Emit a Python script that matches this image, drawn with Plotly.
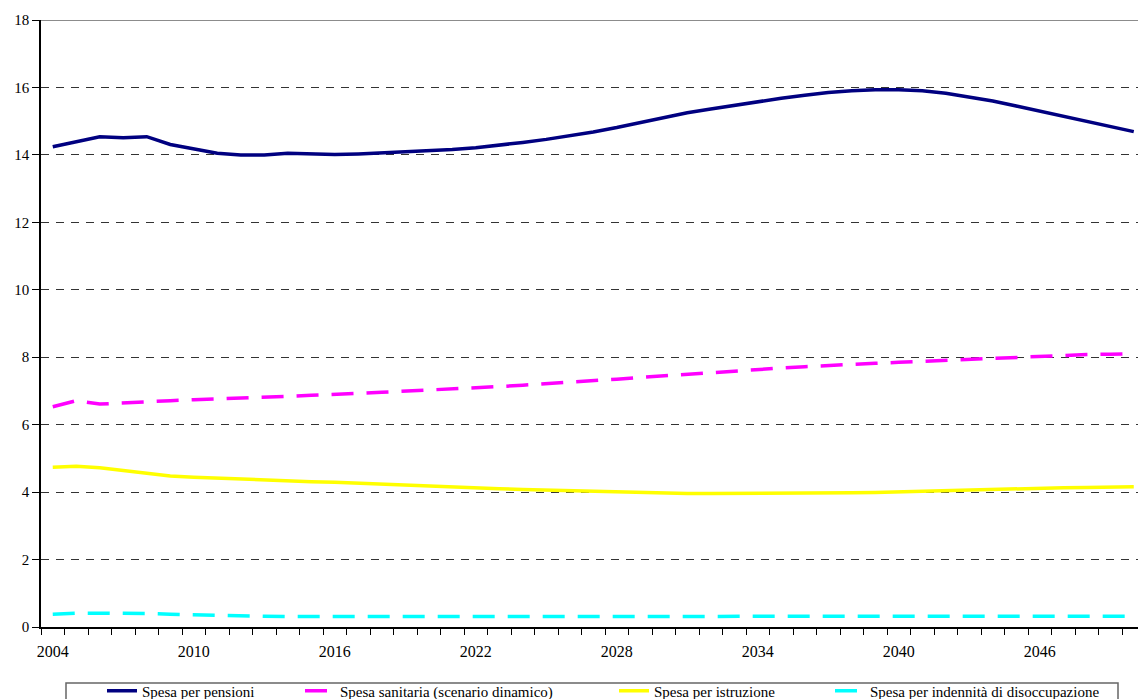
import plotly.graph_objects as go

# Years of the projection
years = list(range(2004, 2051))

# Spending as % of GDP
pensioni = [14.24, 14.40, 14.54, 14.51, 14.54, 14.31, 14.17, 14.05, 14.00, 14.00,
            14.05, 14.02, 14.01, 14.03, 14.06, 14.09, 14.12, 14.16, 14.21, 14.28,
            14.37, 14.46, 14.56, 14.68, 14.81, 14.96, 15.11, 15.25, 15.36, 15.47,
            15.58, 15.68, 15.77, 15.85, 15.90, 15.93, 15.93, 15.90, 15.83, 15.72,
            15.60, 15.45, 15.30, 15.14, 14.98, 14.83, 14.69]

sanitaria = [6.53, 6.71, 6.61, 6.65, 6.68, 6.71, 6.74, 6.76, 6.78, 6.81,
             6.84, 6.87, 6.89, 6.93, 6.96, 6.99, 7.02, 7.05, 7.09, 7.13,
             7.17, 7.21, 7.25, 7.30, 7.35, 7.40, 7.45, 7.50, 7.55, 7.60,
             7.64, 7.68, 7.72, 7.76, 7.79, 7.82, 7.85, 7.88, 7.92, 7.95,
             7.98, 8.01, 8.04, 8.06, 8.08, 8.09, 8.10]

istruzione = [4.74, 4.77, 4.72, 4.64, 4.55, 4.48, 4.44, 4.41, 4.38, 4.35,
              4.33, 4.31, 4.29, 4.26, 4.23, 4.20, 4.17, 4.14, 4.12, 4.10,
              4.08, 4.06, 4.04, 4.02, 4.00, 3.98, 3.97, 3.96, 3.96, 3.96,
              3.96, 3.96, 3.97, 3.97, 3.98, 3.99, 4.01, 4.03, 4.05, 4.07,
              4.09, 4.10, 4.12, 4.13, 4.14, 4.15, 4.16]

disoccupazione = [0.38, 0.41, 0.41, 0.41, 0.40, 0.38, 0.36, 0.35, 0.34, 0.32,
                  0.31, 0.31, 0.31, 0.31, 0.31, 0.31, 0.31, 0.31, 0.31, 0.31,
                  0.31, 0.31, 0.31, 0.31, 0.31, 0.31, 0.31, 0.31, 0.31, 0.31,
                  0.31, 0.31, 0.31, 0.31, 0.31, 0.31, 0.31, 0.31, 0.31, 0.31,
                  0.32, 0.32, 0.32, 0.32, 0.32, 0.32, 0.32]

W, H = 1138, 699
ML, MR, MT, MB = 41, 0, 20, 72
PW, PH = W - ML - MR, H - MT - MB


def px_x(p):
    return (p - ML) / PW


def px_y(p):
    return (H - MB - p) / PH


FONT = "Liberation Serif"
DASH = "22px,13px"

series = [
    ("Spesa per pensioni", pensioni, "#000080", "solid", "legend", 144),
    ("Spesa sanitaria (scenario dinamico)", sanitaria, "#FF00FF", DASH, "legend2", 342),
    ("Spesa per istruzione", istruzione, "#FFFF00", "solid", "legend3", 656),
    ("Spesa per indennità di disoccupazione", disoccupazione, "#00FFFF", DASH, "legend4", 872),
]

fig = go.Figure()
legends = {}
for name, vals, color, dash, leg, text_x in series:
    fig.add_trace(go.Scatter(
        x=years, y=vals, name=name, mode="lines",
        line=dict(color=color, width=3.5, dash=dash),
        legend=leg, showlegend=True,
    ))
    legends[leg] = dict(
        x=px_x(text_x - 42), y=px_y(691), xanchor="left", yanchor="middle",
        orientation="h", bgcolor="rgba(0,0,0,0)", borderwidth=0,
        font=dict(family=FONT, size=15, color="black"),
    )

fig.update_layout(
    width=W, height=H,
    margin=dict(l=ML, r=MR, t=MT, b=MB, pad=0, autoexpand=False),
    paper_bgcolor="white", plot_bgcolor="white",
    font=dict(family=FONT, size=15, color="black"),
    showlegend=True,
    **legends,
)

fig.update_xaxes(
    range=[2003.5, 2050.18],
    tickmode="linear", tick0=2004, dtick=6,
    ticks="", ticklabelstandoff=9,
    showline=True, linecolor="black", linewidth=1.5,
    showgrid=False, zeroline=False,
    minor=dict(tickmode="linear", tick0=2003.5, dtick=1, ticks="outside",
               ticklen=6, tickcolor="black", tickwidth=1, showgrid=False),
    tickfont=dict(family=FONT, size=16, color="black"),
)

fig.update_yaxes(
    range=[0, 18],
    tickmode="linear", tick0=0, dtick=2,
    ticks="outside", ticklen=7, tickcolor="black", tickwidth=1,
    showline=True, linecolor="black", linewidth=1.5,
    showgrid=True, gridcolor="#333333", gridwidth=1, griddash="8px,7px",
    zeroline=False,
    tickfont=dict(family=FONT, size=15, color="black"),
)

# Plot-area top border
fig.add_shape(type="line", xref="paper", yref="y", x0=0, x1=1, y0=18, y1=18,
              line=dict(color="#8c8c8c", width=2))

# Legend frame
fig.add_shape(type="rect", xref="paper", yref="paper",
              x0=px_x(66), x1=px_x(1118), y0=px_y(683), y1=px_y(712),
              line=dict(color="#666666", width=1.5), fillcolor="rgba(0,0,0,0)")

fig.write_html("out.html")
